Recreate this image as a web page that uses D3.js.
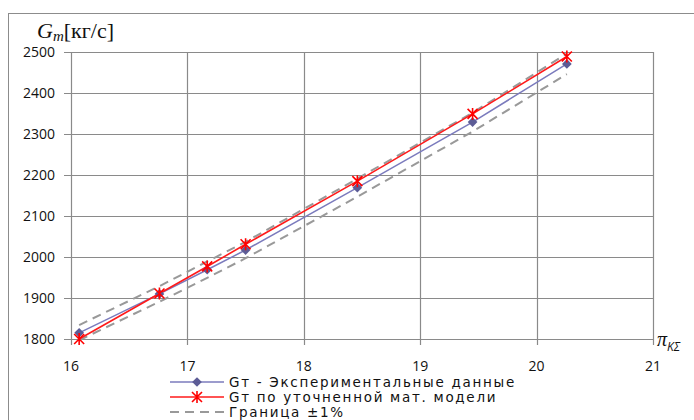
<!DOCTYPE html>
<html>
<head>
<meta charset="utf-8">
<script src="https://cdn.jsdelivr.net/npm/d3@7"></script>
<style>
  body { margin: 0; background: #fff; }
  svg { display: block; }
</style>
</head>
<body>
<script>
var w = 694;
var h = 420;

// pressure ratio pi_KΣ
var pi = [16.07, 16.76, 17.17, 17.5, 18.46, 19.45, 20.26];
// Gt experimental, kg/s
var gtExp = [1815, 1910, 1969, 2017, 2169, 2329, 2471];
// Gt by refined model
var gtModel = [1800, 1911, 1977, 2031, 2185, 2349, 2489];
// ±1% bounds
var upper = [1834, 1929, 1989, 2037, 2191, 2352, 2496];
var lower = [1797, 1891, 1949, 1997, 2147, 2306, 2446];

var xTicks = [16, 17, 18, 19, 20, 21];
var yTicks = [1800, 1900, 2000, 2100, 2200, 2300, 2400, 2500];
var legendLabels = ["Gт - Экспериментальные данные", "Gт по уточненной мат. модели", "Граница ±1%"];

var margin = {left: 71, right: 41, top: 52, bottom: 81};

var xScale = d3.scaleLinear()
	.domain([16, 21])
	.range([margin.left, w - margin.right]);

var yScale = d3.scaleLinear()
	.domain([1800, 2500])
	.range([h - margin.bottom, margin.top]);

var svg = d3.select("body")
	.append("svg")
	.attr("width", w)
	.attr("height", h);

// outer frame (cut by the picture edges on the right and bottom)
svg.append("rect")
	.attr("x", 8.5)
	.attr("y", 13.5)
	.attr("width", 700)
	.attr("height", 420)
	.attr("fill", "none")
	.attr("stroke", "#8c8c8c")
	.attr("stroke-width", 1);

// gridlines
svg.selectAll(".hgrid")
	.data(yTicks)
	.enter()
	.append("line")
	.attr("x1", margin.left - 7)
	.attr("x2", w - margin.right)
	.attr("y1", function(d) { return Math.round(yScale(d)) + 0.5; })
	.attr("y2", function(d) { return Math.round(yScale(d)) + 0.5; })
	.attr("stroke", "#8a8a8a")
	.attr("stroke-width", 1.2);

svg.selectAll(".vgrid")
	.data(xTicks)
	.enter()
	.append("line")
	.attr("x1", function(d) { return Math.round(xScale(d)) + 0.5; })
	.attr("x2", function(d) { return Math.round(xScale(d)) + 0.5; })
	.attr("y1", margin.top)
	.attr("y2", h - margin.bottom + 6)
	.attr("stroke", "#8a8a8a")
	.attr("stroke-width", 1.2);

// tick labels
svg.selectAll(".ylab")
	.data(yTicks)
	.enter()
	.append("text")
	.text(function(d) { return d; })
	.attr("x", 55)
	.attr("y", function(d) { return yScale(d) + 5; })
	.attr("text-anchor", "end")
	.attr("font-family", "Open Sans, sans-serif")
	.attr("font-size", 14)
	.attr("fill", "#111");

svg.selectAll(".xlab")
	.data(xTicks)
	.enter()
	.append("text")
	.text(function(d) { return d; })
	.attr("x", function(d) { return xScale(d); })
	.attr("y", 371)
	.attr("text-anchor", "middle")
	.attr("font-family", "Open Sans, sans-serif")
	.attr("font-size", 14)
	.attr("fill", "#111");

// axis titles
var yt = svg.append("text")
	.attr("x", 37)
	.attr("y", 38)
	.attr("font-family", "Liberation Serif, serif")
	.attr("font-size", 22)
	.attr("fill", "#111");
yt.append("tspan").attr("font-style", "italic").text("G");
yt.append("tspan").attr("font-style", "italic").attr("font-size", 15).attr("dy", 3).text("m");
yt.append("tspan").attr("dy", -3).text("[кг/с]");

var xt = svg.append("text")
	.attr("x", 657)
	.attr("y", 346)
	.attr("font-family", "Liberation Serif, serif")
	.attr("font-style", "italic")
	.attr("font-size", 20)
	.attr("fill", "#111");
xt.append("tspan").text("π");
xt.append("tspan").attr("font-size", 12).attr("dy", 5).attr("font-family", "Open Sans, sans-serif").text("KΣ");

// lines
var line = function(ys) {
	return d3.line()
		.x(function(d, i) { return xScale(pi[i]); })
		.y(function(d) { return yScale(d); })(ys);
};

[upper, lower].forEach(function(s) {
	svg.append("path")
		.attr("d", line(s))
		.attr("fill", "none")
		.attr("stroke", "#999")
		.attr("stroke-width", 2)
		.attr("stroke-dasharray", "9,6");
});

svg.append("path")
	.attr("d", line(gtExp))
	.attr("fill", "none")
	.attr("stroke", "#7b7bbd")
	.attr("stroke-width", 1.5);

svg.append("path")
	.attr("d", line(gtModel))
	.attr("fill", "none")
	.attr("stroke", "#ff1a1a")
	.attr("stroke-width", 1.6);

// markers
var diamond = d3.symbol().type(d3.symbolDiamond2).size(60);
var star = "M-5,-5L5,5M-5,5L5,-5M0,-6L0,6";

svg.selectAll(".dmk")
	.data(gtExp)
	.enter()
	.append("path")
	.attr("d", diamond)
	.attr("transform", function(d, i) { return "translate(" + xScale(pi[i]) + "," + yScale(d) + ")"; })
	.attr("fill", "#5c5c96");

svg.selectAll(".smk")
	.data(gtModel)
	.enter()
	.append("path")
	.attr("d", star)
	.attr("transform", function(d, i) { return "translate(" + xScale(pi[i]) + "," + yScale(d) + ")"; })
	.attr("fill", "none")
	.attr("stroke", "#ff0000")
	.attr("stroke-width", 1.6);

// legend
var lg = svg.append("g");
var rows = [382, 397, 412];

lg.append("line").attr("x1", 170).attr("x2", 224).attr("y1", rows[0]).attr("y2", rows[0])
	.attr("stroke", "#7b7bbd").attr("stroke-width", 1.5);
lg.append("path").attr("d", diamond).attr("transform", "translate(197," + rows[0] + ")").attr("fill", "#5c5c96");

lg.append("line").attr("x1", 170).attr("x2", 224).attr("y1", rows[1]).attr("y2", rows[1])
	.attr("stroke", "#ff1a1a").attr("stroke-width", 1.6);
lg.append("path").attr("d", star).attr("transform", "translate(197," + rows[1] + ")")
	.attr("fill", "none").attr("stroke", "#ff0000").attr("stroke-width", 1.6);

lg.append("line").attr("x1", 170).attr("x2", 224).attr("y1", rows[2]).attr("y2", rows[2])
	.attr("stroke", "#999").attr("stroke-width", 2).attr("stroke-dasharray", "9,6");

lg.selectAll("text")
	.data(legendLabels)
	.enter()
	.append("text")
	.text(function(d) { return d; })
	.attr("x", 229)
	.attr("y", function(d, i) { return rows[i] + 5; })
	.attr("font-family", "DejaVu Sans, sans-serif")
	.attr("font-size", 13.5)
	.attr("letter-spacing", 1.7)
	.attr("fill", "#111");
</script>
</body>
</html>
